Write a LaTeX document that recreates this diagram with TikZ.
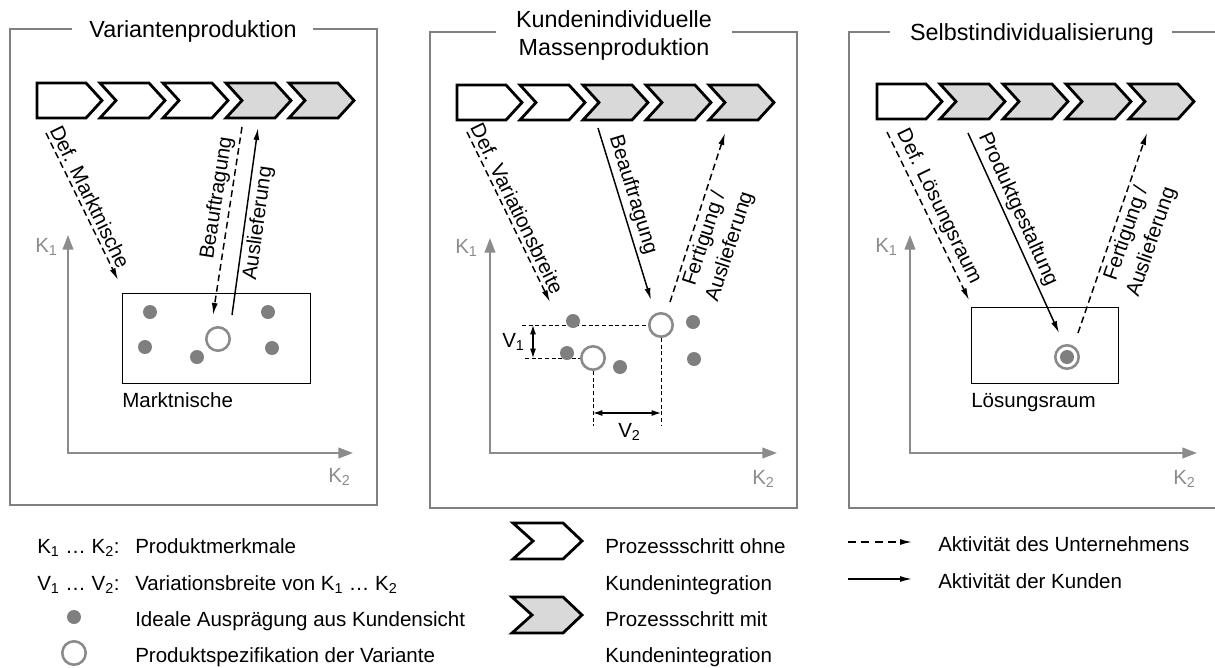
\documentclass[tikz,border=0pt]{standalone}
\usepackage{fontspec}
\setmainfont{Liberation Sans}
\usetikzlibrary{arrows.meta}

\definecolor{framegray}{HTML}{808080}
\definecolor{axisgray}{HTML}{8C8C8C}
\definecolor{dotgray}{HTML}{7F7F7F}
\definecolor{specgray}{HTML}{8A8A8A}
\definecolor{stepgray}{HTML}{D9D9D9}

% one process step (chevron): x0, ytop, notch depth, fill, height, top width, tip depth
\newcommand{\procstep}[7]{%
  \draw[chevline, fill=#4] ({#1},{#2}) -- ++({#6},0) -- ++({#7},{(#5)/2}) -- ++({-(#7)},{(#5)/2})
    -- ++({-(#6)},0) -- ++({#3},{-(#5)/2}) -- cycle;}

\begin{document}
\begin{tikzpicture}[x=0.75pt, y=-0.75pt,
  frame/.style={draw=framegray, line width=1.9pt},
  chevline/.style={draw=black, line width=2.1pt, line join=miter},
  titlefont/.style={font=\fontsize{17.5}{21}\selectfont},
  lbl/.style={font=\fontsize{15.4}{20}\selectfont, inner sep=2.5pt},
  txt/.style={font=\fontsize{15.4}{20}\selectfont, inner sep=0pt},
  axlbl/.style={font=\fontsize{15.4}{20}\selectfont, text=axisgray, inner sep=0pt, anchor=base west},
  axis/.style={draw=axisgray, line width=1.5pt,
    {Triangle[length=11pt,width=8pt]}-{Triangle[length=11pt,width=8pt]}},
  company/.style={line width=1.1pt, dash pattern=on 5pt off 3pt,
    -{Latex[length=9pt,width=4.5pt]}},
  customer/.style={line width=1.1pt, -{Latex[length=9pt,width=4.5pt]}},
  helper/.style={line width=0.75pt, dash pattern=on 3pt off 2pt},
  dim/.style={line width=0.9pt, {Latex[length=7pt,width=4.5pt]}-{Latex[length=7pt,width=4.5pt]}},
  dot/.style={circle, fill=dotgray, minimum size=10.5pt, inner sep=0pt},
  spec/.style={circle, draw=specgray, line width=1.9pt, fill=white, minimum size=17.6pt, inner sep=0pt},
  area/.style={draw=black, line width=1.1pt, inner sep=0pt, anchor=north west}
]
\useasboundingbox (0,0) rectangle (1215,668);

%% ---------------- frames and titles ----------------
\draw[frame] (72,29) -- (10,29) -- (10,505) -- (377,505) -- (377,29) -- (313,29);
\node[titlefont, anchor=base] (t1) at (193,37) {Variantenproduktion};

\draw[frame] (496,32) -- (430,32) -- (430,508) -- (797,508) -- (797,32) -- (732,32);
\node[titlefont, anchor=base] (t2a) at (614,27) {Kundenindividuelle};
\node[titlefont, anchor=base] (t2b) at (614,55) {Massenproduktion};

\draw[frame] (890,32) -- (849,32) -- (849,508) -- (1215,508);
\draw[frame] (1172,32) -- (1215,32);
\node[titlefont, anchor=base] (t3) at (1032,40) {Selbstindividualisierung};

%% ---------------- process steps ----------------
\foreach \k/\f/\n in {0/white/0,1/white/16,2/white/16,3/stepgray/16,4/stepgray/16}
  {\procstep{37+63*\k}{83}{\n}{\f}{35}{49}{16}}
\foreach \k/\f/\n in {0/white/0,1/white/16,2/stepgray/16,3/stepgray/16,4/stepgray/16}
  {\procstep{457+63*\k}{85}{\n}{\f}{35}{49}{16}}
\foreach \k/\f/\n in {0/white/0,1/stepgray/16,2/stepgray/16,3/stepgray/16,4/stepgray/16}
  {\procstep{877+63*\k}{84}{\n}{\f}{35}{49}{16}}

%% ---------------- characteristic axes ----------------
\draw[axis] (68,235) -- (68,453) -- (353,453);
\node[axlbl] (k1a) at (35,252) {K\textsubscript{1}};
\node[axlbl] (k2a) at (328,482) {K\textsubscript{2}};

\draw[axis] (490,238) -- (490,453) -- (777,453);
\node[axlbl] (k1b) at (455,253) {K\textsubscript{1}};
\node[axlbl] (k2b) at (752,484) {K\textsubscript{2}};

\draw[axis] (910,235) -- (910,453) -- (1197,453);
\node[axlbl] (k1c) at (875,252) {K\textsubscript{1}};
\node[axlbl] (k2c) at (1173,484) {K\textsubscript{2}};

%% ---------------- panel 1: Variantenproduktion ----------------
\node[area, minimum width=141pt, minimum height=67.5pt] (niche) at (122,293) {};
\node[txt, anchor=base west] (nichelbl) at (122,407) {Marktnische};
\node[dot] (d11) at (150,312) {};
\node[dot] (d12) at (268,312) {};
\node[dot] (d13) at (145,347) {};
\node[dot] (d14) at (272,348) {};
\node[dot] (d15) at (197,357) {};
\node[spec] (s11) at (218,339) {};

\coordinate (a1s) at (46,133);   \coordinate (a1e) at (118,280);
\coordinate (b1s) at (242,127);  \coordinate (b1e) at (213,315);
\coordinate (c1s) at (232,315);  \coordinate (c1e) at (258,128);
\draw[company] (a1s) -- node[lbl, sloped, above, pos=0.47] (l11) {Def. Marktnische} (a1e);
\draw[company] (b1s) -- node[lbl, sloped, above, pos=0.39] (l12) {Beauftragung} (b1e);
\draw[customer] (c1s) -- node[lbl, sloped, below, pos=0.5] (l13) {Auslieferung} (c1e);

%% ---------------- panel 2: Kundenindividuelle Massenproduktion ----------------
\node[spec] (s21) at (661,325) {};
\node[spec] (s22) at (593,358) {};
\coordinate (h1) at (522,325);
\coordinate (h2) at (525,358);
\coordinate (h3) at (593,426);
\coordinate (h4) at (661,426);
\draw[helper] (h1) -- (s21.west);
\draw[helper] (h2) -- (s22.west);
\draw[helper] (s22.south) -- (h3);
\draw[helper] (s21.south) -- (h4);
\coordinate (v1t) at (533,325);  \coordinate (v1b) at (533,358);
\coordinate (v2l) at (593,413);  \coordinate (v2r) at (661,413);
\draw[dim] (v1t) -- (v1b);
\draw[dim] (v2l) -- (v2r);
\node[txt, anchor=base west] (v1lbl) at (502,347) {V\textsubscript{1}};
\node[txt, anchor=base west] (v2lbl) at (618,437) {V\textsubscript{2}};
\node[dot] (d21) at (573,321) {};
\node[dot] (d22) at (693,322) {};
\node[dot] (d23) at (567,353) {};
\node[dot] (d24) at (620,367) {};
\node[dot] (d25) at (694,359) {};

\coordinate (a2s) at (467,132);  \coordinate (a2e) at (550,302);
\coordinate (b2s) at (598,128);  \coordinate (b2e) at (651,300);
\coordinate (c2s) at (670,302);  \coordinate (c2e) at (725,133);
\draw[company] (a2s) -- node[lbl, sloped, above, pos=0.48] (l21) {Def. Variationsbreite} (a2e);
\draw[customer] (b2s) -- node[lbl, sloped, above, pos=0.41] (l22) {Beauftragung} (b2e);
\draw[company] (c2s) -- node[lbl, sloped, below, pos=0.4, align=center] (l23) {Fertigung /\\Auslieferung} (c2e);

%% ---------------- panel 3: Selbstindividualisierung ----------------
\node[area, minimum width=110.25pt, minimum height=57pt] (space) at (971,307) {};
\node[txt, anchor=base west] (spacelbl) at (971,407) {Lösungsraum};
\node[spec] (s31) at (1067,357) {};
\node[dot] (d31) at (1067,357) {};

\coordinate (a3s) at (887,132);  \coordinate (a3e) at (969,300);
\coordinate (b3s) at (968,133);  \coordinate (b3e) at (1059,333);
\coordinate (c3s) at (1078,333); \coordinate (c3e) at (1147,133);
\draw[company] (a3s) -- node[lbl, sloped, above, pos=0.48] (l31) {Def. Lösungsraum} (a3e);
\draw[customer] (b3s) -- node[lbl, sloped, above, pos=0.41] (l32) {Produktgestaltung} (b3e);
\draw[company] (c3s) -- node[lbl, sloped, below, pos=0.52, align=center] (l33) {Fertigung /\\Auslieferung} (c3e);

%% ---------------- legend ----------------
\node[txt, anchor=base west] (lk) at (37,553) {K\textsubscript{1} … K\textsubscript{2}:};
\node[txt, anchor=base west] (lkt) at (135,553) {Produktmerkmale};
\node[txt, anchor=base west] (lv) at (37,590) {V\textsubscript{1} … V\textsubscript{2}:};
\node[txt, anchor=base west] (lvt) at (135,590) {Variationsbreite von K\textsubscript{1} … K\textsubscript{2}};
\node[dot] (ld) at (74,617) {};
\node[txt, anchor=base west] (ldt) at (135,626) {Ideale Ausprägung aus Kundensicht};
\node[spec] (ls) at (74,653) {};
\node[txt, anchor=base west] (lst) at (135,662) {Produktspezifikation der Variante};

\procstep{513}{523}{20}{white}{36}{50}{19}
\procstep{512}{597}{20}{stepgray}{36}{51}{19}
\node[txt, anchor=base west] (lp1) at (605,553) {Prozessschritt ohne};
\node[txt, anchor=base west] (lp2) at (605,590) {Kundenintegration};
\node[txt, anchor=base west] (lp3) at (605,626) {Prozessschritt mit};
\node[txt, anchor=base west] (lp4) at (605,662) {Kundenintegration};

\coordinate (le1s) at (848,542); \coordinate (le1e) at (912,542);
\coordinate (le2s) at (848,579); \coordinate (le2e) at (912,579);
\draw[company, dash pattern=on 6pt off 4pt] (le1s) -- (le1e);
\draw[customer] (le2s) -- (le2e);
\node[txt, anchor=base west] (la1) at (938,551) {Aktivität des Unternehmens};
\node[txt, anchor=base west] (la2) at (938,588) {Aktivität der Kunden};
\end{tikzpicture}
\end{document}
